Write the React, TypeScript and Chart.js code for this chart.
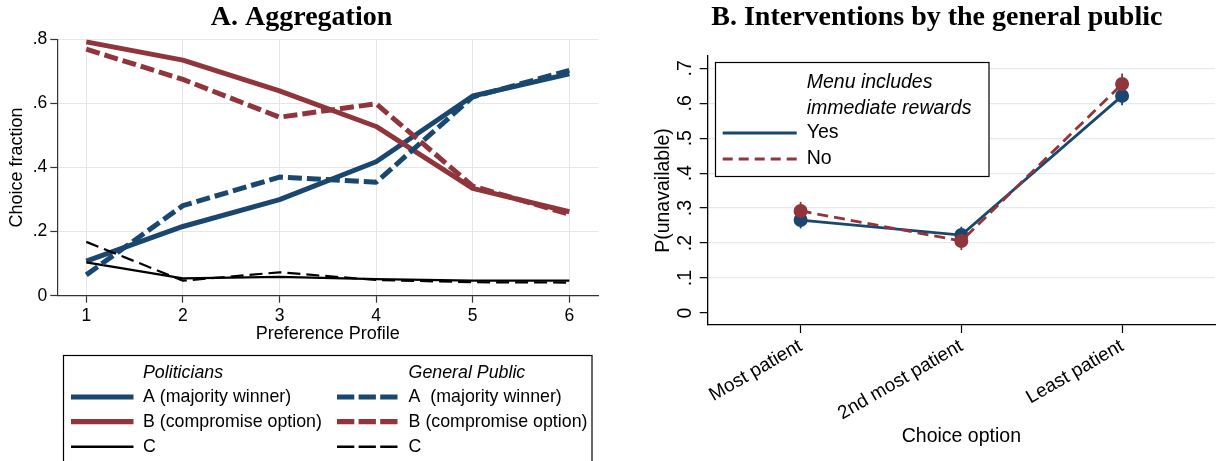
import React, { useEffect, useRef } from 'react';
import { Chart, registerables } from 'chart.js';

Chart.register(...registerables);

const FONT = '"Liberation Sans", Arial, Helvetica, sans-serif';
const SERIF = '"Liberation Serif", "Times New Roman", serif';
const BLUE = '#1a476f';
const RED = '#90353b';
const BLACK = '#000000';

// ---------- Panel A data ----------
const titleA = 'A. Aggregation';
const xTitleA = 'Preference Profile';
const yTitleA = 'Choice fraction';
const profiles = [1, 2, 3, 4, 5, 6];
const polA = [0.108, 0.216, 0.3, 0.418, 0.623, 0.692];
const polB = [0.792, 0.735, 0.639, 0.528, 0.335, 0.262];
const polC = [0.104, 0.054, 0.059, 0.052, 0.047, 0.047];
const pubA = [0.065, 0.281, 0.37, 0.354, 0.62, 0.703];
const pubB = [0.769, 0.675, 0.557, 0.599, 0.342, 0.254];
const pubC = [0.168, 0.047, 0.073, 0.049, 0.042, 0.041];
const yTicksA = [0, 0.2, 0.4, 0.6, 0.8];
const yTickLabelsA = ['0', '.2', '.4', '.6', '.8'];
const legendHeadersA = ['Politicians', 'General Public'];
const labelsPoliticians = ['A (majority winner)', 'B (compromise option)', 'C'];
const labelsPublic = ['A  (majority winner)', 'B (compromise option)', 'C'];

// ---------- Panel B data ----------
const titleB = 'B. Interventions by the general public';
const xTitleB = 'Choice option';
const yTitleB = 'P(unavailable)';
const choiceOptions = ['Most patient', '2nd most patient', 'Least patient'];
const choiceIndex = [0, 1, 2];
const yesValues = [0.266, 0.223, 0.621];
const yesLow = [0.242, 0.199, 0.594];
const yesHigh = [0.29, 0.247, 0.648];
const noValues = [0.292, 0.206, 0.655];
const noLow = [0.266, 0.18, 0.625];
const noHigh = [0.318, 0.232, 0.685];
const yTicksB = [0, 0.1, 0.2, 0.3, 0.4, 0.5, 0.6, 0.7];
const yTickLabelsB = ['0', '.1', '.2', '.3', '.4', '.5', '.6', '.7'];
const legendHeaderB = ['Menu includes', 'immediate rewards'];
const legendLabelsB = ['Yes', 'No'];

const pts = (xs: number[], ys: number[]) => xs.map((x, i) => ({ x, y: ys[i] }));

function drawSample(ctx: CanvasRenderingContext2D, x0: number, x1: number, y: number, color: string, width: number, dash: number[]) {
  ctx.save();
  ctx.beginPath();
  ctx.strokeStyle = color;
  ctx.lineWidth = width;
  ctx.lineCap = 'butt';
  ctx.setLineDash(dash);
  ctx.moveTo(x0, y);
  ctx.lineTo(x1, y);
  ctx.stroke();
  ctx.restore();
}

function PanelA() {
  const ref = useRef<HTMLCanvasElement>(null);
  useEffect(() => {
    const canvas = ref.current!;
    const thickDash = [14, 5];
    const thinDash = [13, 6];
    const series = [
      { label: labelsPoliticians[0], values: polA, color: BLUE, width: 5, dash: [] as number[], legendDash: [] as number[] },
      { label: labelsPoliticians[1], values: polB, color: RED, width: 5, dash: [], legendDash: [] },
      { label: labelsPoliticians[2], values: polC, color: BLACK, width: 2.2, dash: [], legendDash: [] },
      { label: labelsPublic[0], values: pubA, color: BLUE, width: 5, dash: thickDash, legendDash: [17.3, 4.3] },
      { label: labelsPublic[1], values: pubB, color: RED, width: 5, dash: thickDash, legendDash: [17.3, 4.3] },
      { label: labelsPublic[2], values: pubC, color: BLACK, width: 2.2, dash: thinDash, legendDash: [17.3, 4.3] },
    ];
    const decor = {
      id: 'decorA',
      afterDraw(chart: any) {
        const ctx: CanvasRenderingContext2D = chart.ctx;
        ctx.save();
        ctx.fillStyle = '#000';
        ctx.font = `bold 28px ${SERIF}`;
        ctx.textAlign = 'center';
        ctx.textBaseline = 'alphabetic';
        ctx.fillText(titleA, 301.5, 25);
        // legend box
        ctx.strokeStyle = '#000';
        ctx.lineWidth = 1.2;
        ctx.strokeRect(63.5, 355.5, 528.5, 130);
        ctx.textAlign = 'left';
        ctx.textBaseline = 'middle';
        const colLine = [[71, 133.5], [337, 399]];
        const colText = [143, 408.6];
        const rows = [397, 421.7, 446.7];
        ctx.font = `italic 17.8px ${FONT}`;
        ctx.fillText(legendHeadersA[0], colText[0], 373);
        ctx.fillText(legendHeadersA[1], colText[1], 373);
        ctx.font = `17.8px ${FONT}`;
        series.forEach((s, i) => {
          const col = i < 3 ? 0 : 1;
          const row = i % 3;
          drawSample(ctx, colLine[col][0], colLine[col][1], rows[row], s.color, s.width === 5 ? 5.2 : 2.6, s.legendDash);
          ctx.fillStyle = '#000';
          ctx.fillText(s.label, colText[col], rows[row]);
        });
        ctx.restore();
      },
    };
    const chart = new Chart(canvas, {
      type: 'line',
      data: {
        datasets: series.map((s, i) => ({
          label: s.label,
          data: pts(profiles, s.values),
          borderColor: s.color,
          backgroundColor: s.color,
          borderWidth: s.width,
          borderDash: s.dash,
          borderCapStyle: 'butt',
          borderJoinStyle: 'round',
          pointRadius: 0,
          tension: 0,
          fill: false,
          order: 10 - i,
        })),
      },
      options: {
        animation: false,
        responsive: false,
        events: [],
        layout: { padding: { left: 0, right: 11.7, top: 39.3, bottom: 116.3 } },
        plugins: { legend: { display: false }, tooltip: { enabled: false }, title: { display: false } },
        scales: {
          x: {
            type: 'linear',
            min: 0.7,
            max: 6.3,
            bounds: 'data',
            afterBuildTicks: (s: any) => { s.ticks = profiles.map((v) => ({ value: v })); },
            afterFit: (s: any) => { s.height = 49; },
            ticks: {
              callback: (v: any) => String(v),
              font: { family: FONT, size: 17.5 },
              color: '#000',
              padding: 3,
              maxRotation: 0,
              minRotation: 0,
              autoSkip: false,
            },
            grid: { color: '#e6e6e6', lineWidth: 1, tickColor: '#333', tickLength: 7, tickWidth: 1.2 },
            border: { color: '#333', width: 1.2 },
            title: { display: true, text: xTitleA, font: { family: FONT, size: 18 }, color: '#000', padding: { top: 0, bottom: 0 } },
          },
          y: {
            type: 'linear',
            min: 0,
            max: 0.8,
            bounds: 'data',
            afterBuildTicks: (s: any) => { s.ticks = yTicksA.map((v) => ({ value: v })); },
            afterFit: (s: any) => { s.width = 57.3; },
            ticks: {
              callback: (_v: any, i: number) => yTickLabelsA[i],
              font: { family: FONT, size: 17.5 },
              color: '#000',
              padding: 3,
              autoSkip: false,
            },
            grid: { color: '#e6e6e6', lineWidth: 1, tickColor: '#333', tickLength: 7, tickWidth: 1.2 },
            border: { color: '#333', width: 1.2 },
            title: { display: true, text: yTitleA, font: { family: FONT, size: 18 }, color: '#000', padding: { top: 6.7, bottom: 0 } },
          },
        },
      } as any,
      plugins: [decor],
    });
    return () => chart.destroy();
  }, []);
  return <canvas ref={ref} width={610} height={461} style={{ position: 'absolute', left: 0, top: 0, width: 610, height: 461 }} />;
}

function PanelB() {
  const ref = useRef<HTMLCanvasElement>(null);
  useEffect(() => {
    const canvas = ref.current!;
    const series = [
      { label: legendLabelsB[0], values: yesValues, low: yesLow, high: yesHigh, color: BLUE, dash: [] as number[], legendDash: [] as number[] },
      { label: legendLabelsB[1], values: noValues, low: noLow, high: noHigh, color: RED, dash: [11, 6], legendDash: [10, 6] },
    ];
    const decor = {
      id: 'decorB',
      beforeDatasetsDraw(chart: any) {
        const ctx: CanvasRenderingContext2D = chart.ctx;
        const xs = chart.scales.x;
        const ys = chart.scales.y;
        ctx.save();
        series.forEach((s) => {
          ctx.strokeStyle = s.color;
          ctx.lineWidth = 1.8;
          ctx.setLineDash([]);
          choiceIndex.forEach((ci) => {
            const px = xs.getPixelForValue(ci);
            ctx.beginPath();
            ctx.moveTo(px, ys.getPixelForValue(s.low[ci]));
            ctx.lineTo(px, ys.getPixelForValue(s.high[ci]));
            ctx.stroke();
          });
        });
        ctx.restore();
      },
      afterDraw(chart: any) {
        const ctx: CanvasRenderingContext2D = chart.ctx;
        ctx.save();
        ctx.fillStyle = '#000';
        ctx.font = `bold 28px ${SERIF}`;
        ctx.textAlign = 'center';
        ctx.textBaseline = 'alphabetic';
        ctx.fillText(titleB, 326.8, 25);
        // legend
        ctx.fillStyle = '#fff';
        ctx.fillRect(105.5, 62.5, 273.5, 114);
        ctx.strokeStyle = '#000';
        ctx.lineWidth = 1.2;
        ctx.strokeRect(105.5, 62.5, 273.5, 114);
        ctx.fillStyle = '#000';
        ctx.textAlign = 'left';
        ctx.textBaseline = 'middle';
        ctx.font = `italic 19.5px ${FONT}`;
        ctx.fillText(legendHeaderB[0], 196.7, 82.5);
        ctx.fillText(legendHeaderB[1], 196.7, 109);
        ctx.font = `19.5px ${FONT}`;
        const rows = [133, 159];
        series.forEach((s, i) => {
          drawSample(ctx, 112.7, 186.7, rows[i], s.color, 2.8, s.legendDash);
          ctx.fillStyle = '#000';
          ctx.fillText(s.label, 196.7, rows[i]);
        });
        ctx.restore();
      },
    };
    const chart = new Chart(canvas, {
      type: 'line',
      data: {
        datasets: series.map((s, i) => ({
          label: s.label,
          data: pts(choiceIndex, s.values),
          borderColor: s.color,
          backgroundColor: s.color,
          pointBackgroundColor: s.color,
          pointBorderColor: s.color,
          pointBorderWidth: 0,
          pointRadius: 7,
          borderWidth: 2.8,
          borderDash: s.dash,
          borderCapStyle: 'butt',
          tension: 0,
          fill: false,
          order: 5 - i,
        })),
      },
      options: {
        animation: false,
        responsive: false,
        events: [],
        layout: { padding: { left: 0, right: 0, top: 56, bottom: 0 } },
        plugins: { legend: { display: false }, tooltip: { enabled: false }, title: { display: false } },
        scales: {
          x: {
            type: 'linear',
            min: -0.578,
            max: 2.578,
            bounds: 'data',
            afterBuildTicks: (s: any) => { s.ticks = choiceIndex.map((v) => ({ value: v })); },
            afterFit: (s: any) => { s.height = 136; },
            ticks: {
              callback: (_v: any, i: number) => choiceOptions[i],
              font: { family: FONT, size: 19 },
              color: '#000',
              padding: 2,
              minRotation: 30,
              maxRotation: 30,
              autoSkip: false,
            },
            grid: { drawOnChartArea: false, tickColor: '#000', tickLength: 8, tickWidth: 1.2 },
            border: { color: '#000', width: 1.3 },
            title: { display: true, text: xTitleB, font: { family: FONT, size: 19.5 }, color: '#000', padding: { top: 0, bottom: 12.6 } },
          },
          y: {
            type: 'linear',
            min: -0.0343,
            max: 0.7352,
            bounds: 'data',
            afterBuildTicks: (s: any) => { s.ticks = yTicksB.map((v) => ({ value: v })); },
            afterFit: (s: any) => { s.width = 97.7; },
            ticks: {
              callback: (_v: any, i: number) => yTickLabelsB[i],
              font: { family: FONT, size: 19.5 },
              color: '#000',
              padding: 5.6,
              minRotation: 90,
              maxRotation: 90,
              crossAlign: 'center',
              autoSkip: false,
            },
            grid: {
              color: (c: any) => (c.tick && c.tick.value === 0 ? 'rgba(0,0,0,0)' : '#e3ebef'),
              lineWidth: 1.3,
              tickColor: '#000',
              tickLength: 8,
              tickWidth: 1.2,
            },
            border: { color: '#000', width: 1.3 },
            title: { display: true, text: yTitleB, font: { family: FONT, size: 19.5 }, color: '#000', padding: { top: 42.3, bottom: 0 } },
          },
        },
      } as any,
      plugins: [decor],
    });
    return () => chart.destroy();
  }, []);
  return <canvas ref={ref} width={612} height={461} style={{ position: 'absolute', left: 610, top: 0, width: 612, height: 461 }} />;
}

export default function App() {
  useEffect(() => {
    document.body.style.margin = '0';
    document.body.style.background = '#fff';
  }, []);
  return (
    <div style={{ position: 'absolute', left: 0, top: 0, width: 1222, height: 461, background: '#fff', overflow: 'hidden' }}>
      <PanelA />
      <PanelB />
    </div>
  );
}
